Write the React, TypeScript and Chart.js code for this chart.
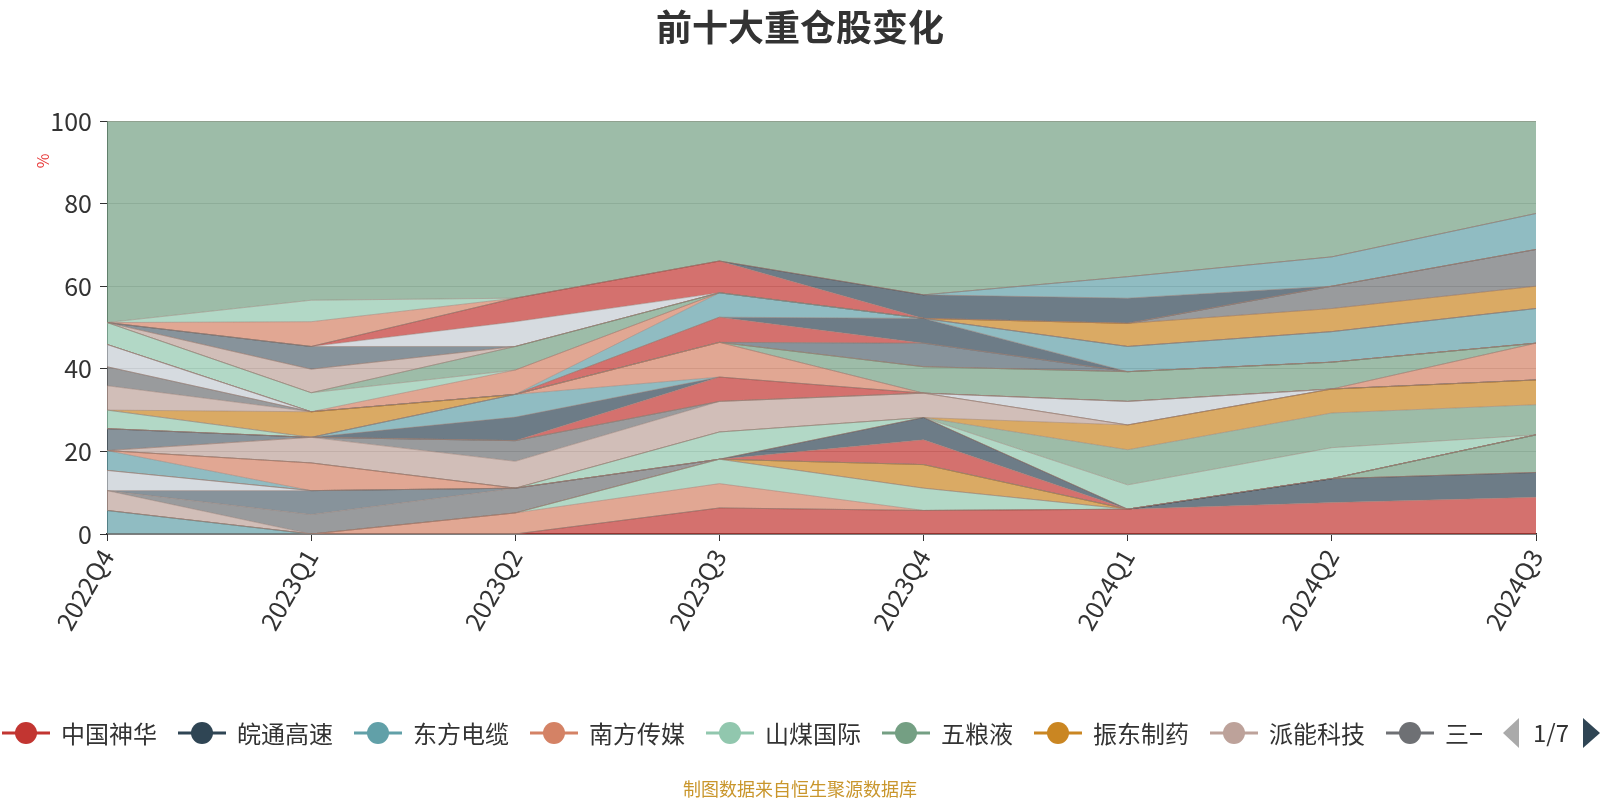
import React, { useEffect, useRef } from 'react';
import { Chart, registerables } from 'chart.js';

Chart.register(...registerables);

const TITLE = '前十大重仓股变化';
const FOOTER = '制图数据来自恒生聚源数据库';
const Y_UNIT = '%';
const PAGER_TEXT = '1/7';

const QUARTERS = ['2022Q4', '2023Q1', '2023Q2', '2023Q3', '2023Q4', '2024Q1', '2024Q2', '2024Q3'];
const Y_TICKS = [0, 20, 40, 60, 80, 100];

// 持仓占比（%），按图例顺序自下而上堆叠
const S00 = [0, 0, 0, 6.3, 5.7, 6.0, 7.6, 8.9];
const S01 = [0, 0, 0, 0, 0, 0, 5.8, 6.0];
const S02 = [5.7, 0, 0, 0, 0, 0, 0, 0];
const S03 = [0, 0, 5.1, 5.9, 0, 0, 0, 0];
const S04 = [0, 0, 0, 5.9, 5.4, 0, 0, 0];
const S05 = [0, 0, 0, 0, 0, 0, 0, 9.1];
const S06 = [0, 0, 0, 0, 5.7, 0, 0, 0];
const S07 = [4.8, 0, 0, 0, 0, 0, 0, 0];
const S08 = [0, 4.7, 6.0, 0, 0, 0, 0, 0];
const S09 = [0, 5.8, 0, 0, 0, 0, 0, 0];
const S10 = [4.9, 0, 0, 0, 0, 0, 0, 0];
const S11 = [0, 0, 0, 0, 6.0, 0, 0, 0];
const S12 = [0, 0, 0, 0, 5.4, 0, 0, 0];
const S13 = [4.8, 0, 0, 0, 0, 0, 0, 0];
const S14 = [0, 6.7, 0, 0, 0, 0, 0, 0];
const S15 = [0, 0, 0, 6.6, 0, 5.9, 7.5, 0];
const S16 = [0, 0, 0, 0, 0, 8.5, 8.4, 7.3];
const S17 = [0, 0, 0, 0, 0, 6.0, 5.8, 6.0];
const S18 = [0, 6.2, 6.5, 7.4, 5.9, 0, 0, 0];
const S19 = [0, 0, 5.0, 0, 0, 0, 0, 0];
const S20 = [5.3, 0, 0, 0, 0, 0, 0, 0];
const S21 = [0, 0, 0, 0, 0, 5.7, 0, 0];
const S22 = [0, 0, 0, 5.9, 0, 0, 0, 0];
const S23 = [0, 0, 5.7, 0, 0, 0, 0, 0];
const S24 = [0, 0, 5.5, 0, 0, 0, 0, 0];
const S25 = [0, 0, 0, 8.4, 0, 0, 0, 8.9];
const S26 = [4.5, 0, 0, 0, 0, 0, 0, 0];
const S27 = [0, 0, 0, 0, 6.4, 7.2, 6.5, 0];
const S28 = [0, 6.2, 0, 0, 0, 0, 0, 0];
const S29 = [5.9, 0, 0, 0, 0, 0, 0, 0];
const S30 = [4.6, 0, 0, 0, 0, 0, 0, 0];
const S31 = [0, 0, 0, 0, 5.7, 0, 0, 0];
const S32 = [5.4, 0, 0, 0, 0, 0, 0, 0];
const S33 = [0, 0, 0, 6.1, 0, 0, 0, 0];
const S34 = [0, 0, 0, 0, 6.0, 0, 0, 0];
const S35 = [0, 0, 0, 5.9, 0, 6.1, 7.4, 8.4];
const S36 = [0, 0, 5.9, 0, 0, 0, 0, 0];
const S37 = [5.3, 4.6, 0, 0, 0, 0, 0, 0];
const S38 = [0, 0, 5.7, 0, 0, 0, 0, 0];
const S39 = [0, 0, 0, 0, 0, 5.6, 5.6, 5.4];
const S40 = [0, 5.7, 0, 0, 0, 0, 0, 0];
const S41 = [0, 0, 0, 0, 0, 0, 5.4, 8.9];
const S42 = [0, 5.5, 0, 0, 0, 0, 0, 0];
const S43 = [0, 0, 6.0, 0, 0, 0, 0, 0];
const S44 = [0, 0, 5.7, 7.7, 0, 0, 0, 0];
const S45 = [0, 0, 0, 0, 5.7, 6.1, 0, 0];
const S46 = [0, 0, 0, 0, 0, 5.2, 7.1, 8.7];
const S47 = [0, 6.0, 0, 0, 0, 0, 0, 0];
const S48 = [0, 5.2, 0, 0, 0, 0, 0, 0];
const S49 = [48.8, 43.4, 42.9, 33.9, 42.1, 37.7, 32.9, 22.4];

const SERIES_VALUES = [
  S00, S01, S02, S03, S04, S05, S06, S07, S08, S09,
  S10, S11, S12, S13, S14, S15, S16, S17, S18, S19,
  S20, S21, S22, S23, S24, S25, S26, S27, S28, S29,
  S30, S31, S32, S33, S34, S35, S36, S37, S38, S39,
  S40, S41, S42, S43, S44, S45, S46, S47, S48, S49,
];

const FIRST_PAGE_NAMES = ['中国神华', '皖通高速', '东方电缆', '南方传媒', '山煤国际', '五粮液', '振东制药', '派能科技', '三一重工'];
const OTHER_NAME = '其他';
const SERIES_NAMES = SERIES_VALUES.map((_, i) =>
  i < FIRST_PAGE_NAMES.length ? FIRST_PAGE_NAMES[i] : i === SERIES_VALUES.length - 1 ? OTHER_NAME : `重仓股${i + 1}`
);

const PALETTE = ['#c23531', '#2f4554', '#61a0a8', '#d48265', '#91c7ae', '#749f83', '#ca8622', '#bda29a', '#6e7074', '#546570', '#c4ccd3'];
const FONT = '"Noto Sans CJK SC", "Noto Sans", sans-serif';

function rgba(hex: string, a: number) {
  const n = parseInt(hex.slice(1), 16);
  return `rgba(${(n >> 16) & 255},${(n >> 8) & 255},${n & 255},${a})`;
}

const overlayPlugin = {
  id: 'overlay',
  afterDraw(chart: any) {
    const ctx = chart.ctx as CanvasRenderingContext2D;
    ctx.save();
    // title
    ctx.font = `bold 36px ${FONT}`;
    ctx.fillStyle = '#333';
    ctx.textAlign = 'center';
    ctx.textBaseline = 'middle';
    ctx.fillText(TITLE, 800, 27);

    // y unit
    ctx.save();
    ctx.translate(43, 161);
    ctx.rotate(-Math.PI / 2);
    ctx.font = `16px ${FONT}`;
    ctx.fillStyle = '#e83a3a';
    ctx.fillText(Y_UNIT, 0, 0);
    ctx.restore();

    // legend (page 1)
    const cy = 733;
    ctx.save();
    ctx.beginPath();
    ctx.rect(0, 700, 1482, 70);
    ctx.clip();
    ctx.font = `24px ${FONT}`;
    ctx.textAlign = 'left';
    ctx.textBaseline = 'middle';
    let x = 2;
    for (let i = 0; i < FIRST_PAGE_NAMES.length; i++) {
      const c = PALETTE[i % PALETTE.length];
      ctx.strokeStyle = c;
      ctx.lineWidth = 3;
      ctx.beginPath();
      ctx.moveTo(x, cy);
      ctx.lineTo(x + 48, cy);
      ctx.stroke();
      ctx.fillStyle = c;
      ctx.beginPath();
      ctx.arc(x + 24, cy, 11, 0, Math.PI * 2);
      ctx.fill();
      ctx.fillStyle = '#333';
      ctx.fillText(SERIES_NAMES[i], x + 59, cy + 1);
      x += 59 + ctx.measureText(SERIES_NAMES[i]).width + 21;
    }
    ctx.restore();

    // pager
    ctx.fillStyle = '#aaa';
    ctx.beginPath();
    ctx.moveTo(1503, cy);
    ctx.lineTo(1519, cy - 15);
    ctx.lineTo(1519, cy + 15);
    ctx.closePath();
    ctx.fill();
    ctx.fillStyle = '#333';
    ctx.font = `24px ${FONT}`;
    ctx.textAlign = 'left';
    ctx.fillText(PAGER_TEXT, 1533, cy);
    ctx.fillStyle = '#2f4554';
    ctx.beginPath();
    ctx.moveTo(1600, cy);
    ctx.lineTo(1583, cy - 15);
    ctx.lineTo(1583, cy + 15);
    ctx.closePath();
    ctx.fill();

    // footer
    ctx.font = `18px ${FONT}`;
    ctx.fillStyle = '#c9962c';
    ctx.textAlign = 'center';
    ctx.fillText(FOOTER, 800, 789);
    ctx.restore();
  },
};

export default function App() {
  const ref = useRef<HTMLCanvasElement | null>(null);

  useEffect(() => {
    if (!ref.current) return;
    const datasets = SERIES_VALUES.map((data, i) => ({
      label: SERIES_NAMES[i],
      data,
      backgroundColor: rgba(PALETTE[i % PALETTE.length], 0.7),
      borderColor: 'rgba(150,125,115,0.7)',
      borderWidth: 0.7,
      pointRadius: 0,
      pointHoverRadius: 0,
      tension: 0,
      fill: i === 0 ? 'origin' : '-1',
    }));
    const chart = new Chart(ref.current, {
      type: 'line',
      data: { labels: QUARTERS, datasets },
      options: {
        responsive: false,
        animation: false,
        events: [],
        layout: { padding: { left: 0, right: 64, top: 121, bottom: 0 } },
        plugins: {
          legend: { display: false },
          title: { display: false },
          tooltip: { enabled: false },
        },
        scales: {
          x: {
            type: 'category',
            offset: false,
            grid: { display: true, drawOnChartArea: false, drawTicks: true, tickLength: 7, color: '#333', tickColor: '#333' },
            border: { display: true, color: '#333', width: 1.5 },
            ticks: {
              autoSkip: false,
              minRotation: 60,
              maxRotation: 60,
              padding: 3,
              color: '#333',
              font: { size: 25, family: FONT },
            },
            afterFit: (s: any) => {
              s.height = 266;
            },
          },
          y: {
            stacked: true,
            min: 0,
            max: 100,
            afterBuildTicks: (s: any) => {
              s.ticks = Y_TICKS.map((v) => ({ value: v }));
            },
            grid: { color: '#ccc', tickColor: '#333', tickLength: 7 },
            border: { display: true, color: '#333', width: 1 },
            ticks: { padding: 8, color: '#333', font: { size: 25, family: FONT } },
            afterFit: (s: any) => {
              s.width = 107;
            },
          },
        },
      },
      plugins: [overlayPlugin],
    });
    return () => chart.destroy();
  }, []);

  return (
    <div style={{ position: 'absolute', left: 0, top: 0, width: 1600, height: 800, background: '#fff' }}>
      <canvas ref={ref} width={1600} height={800} style={{ display: 'block', width: 1600, height: 800 }} />
    </div>
  );
}
